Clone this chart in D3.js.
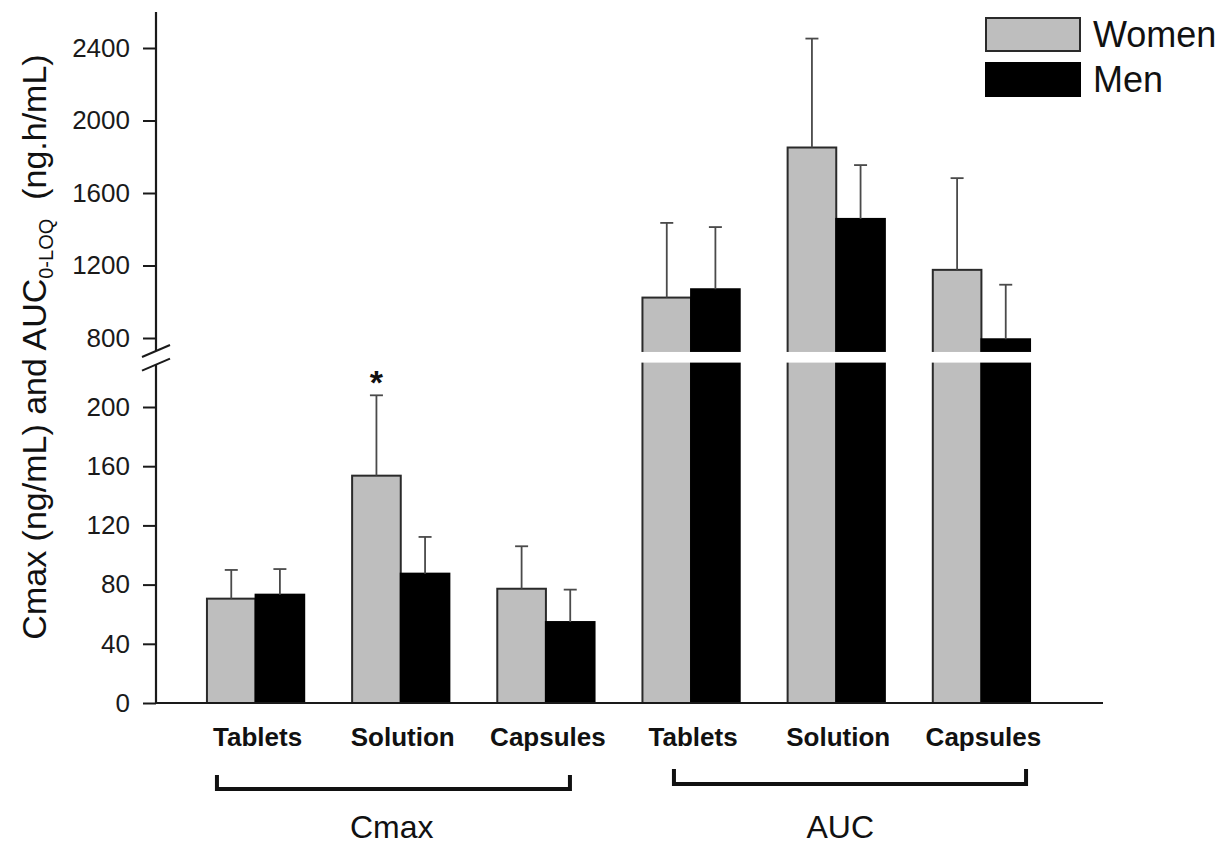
<!DOCTYPE html>
<html>
<head>
<meta charset="utf-8">
<script src="https://cdn.jsdelivr.net/npm/d3@7"></script>
<style>
  html, body { margin: 0; padding: 0; background: #fff; }
  svg { display: block; font-family: "Liberation Sans", Arial, Helvetica, sans-serif; }
</style>
</head>
<body>
<svg id="chart" width="1230" height="847"></svg>
<script>
// ---------------- data ----------------
const measures = ["Cmax", "AUC"];
const forms = ["Tablets", "Solution", "Capsules"];
const sexes = ["Women", "Men"];

const womenCmax   = [70.5, 153.6, 77.2];
const womenCmaxSD = [19.4, 54.3, 28.7];
const menCmax     = [73.2, 87.4, 54.7];
const menCmaxSD   = [17.3, 24.8, 21.9];

const womenAUC    = [1023, 1851, 1176];
const womenAUCSD  = [412, 601, 506];
const menAUC      = [1069, 1457, 793];
const menAUCSD    = [343, 297, 301];

const lowTicks  = [0, 40, 80, 120, 160, 200];
const highTicks = [800, 1200, 1600, 2000, 2400];
const significant = [{ measure: "Cmax", form: "Solution", sex: "Women", label: "*" }];

// ---------------- layout ----------------
const svg = d3.select("#chart");
const FONT = "'Liberation Sans', Arial, Helvetica, sans-serif";
const axisX = 156;
const lowBreak = 230, highBreak = 723;

const yLow  = d3.scaleLinear().domain([0, 200]).range([703, 407]);
const yHigh = d3.scaleLinear().domain([800, 2400]).range([338, 48]);
const yTop = yHigh(2598);

const keys = [];
measures.forEach(m => forms.forEach(f => keys.push(m + "|" + f)));
const x = d3.scaleBand().domain(keys).range([183, 1054]).paddingInner(0.33).paddingOuter(0.165);
const xs = d3.scaleBand().domain(sexes).range([0, x.bandwidth()]).padding(0);

const fills = { Women: "#bebebe", Men: "#000000" };
const strokes = { Women: "#2a2a2a", Men: "#000000" };

const rows = [];
forms.forEach((f, i) => {
  rows.push({ measure: "Cmax", form: f, sex: "Women", v: womenCmax[i], sd: womenCmaxSD[i] });
  rows.push({ measure: "Cmax", form: f, sex: "Men",   v: menCmax[i],   sd: menCmaxSD[i] });
});
forms.forEach((f, i) => {
  rows.push({ measure: "AUC", form: f, sex: "Women", v: womenAUC[i], sd: womenAUCSD[i] });
  rows.push({ measure: "AUC", form: f, sex: "Men",   v: menAUC[i],   sd: menAUCSD[i] });
});
const yOf = (d, v) => d.measure === "Cmax" ? yLow(v) : yHigh(v);
const bx = d => x(d.measure + "|" + d.form) + xs(d.sex);

// bars
svg.append("g").selectAll("rect").data(rows).join("rect")
  .attr("x", d => bx(d))
  .attr("y", d => yOf(d, d.v))
  .attr("width", xs.bandwidth())
  .attr("height", d => yLow(0) - yOf(d, d.v))
  .attr("fill", d => fills[d.sex])
  .attr("stroke", d => strokes[d.sex])
  .attr("stroke-width", 2);

// error bars
const eb = svg.append("g").attr("stroke", "#4a4a4a").attr("stroke-width", 1.8);
rows.forEach(d => {
  const cx = bx(d) + xs.bandwidth() / 2;
  const y1 = yOf(d, d.v), y2 = yOf(d, d.v + d.sd);
  eb.append("line").attr("x1", cx).attr("x2", cx).attr("y1", y1).attr("y2", y2);
  eb.append("line").attr("x1", cx - 6.5).attr("x2", cx + 6.5).attr("y1", y2).attr("y2", y2);
});

// significance marker
significant.forEach(s => {
  const d = rows.find(r => r.measure === s.measure && r.form === s.form && r.sex === s.sex);
  svg.append("text")
    .attr("x", bx(d) + xs.bandwidth() / 2)
    .attr("y", yOf(d, d.v + d.sd) - 1)
    .attr("text-anchor", "middle")
    .attr("font-size", 34).attr("font-weight", "bold").attr("fill", "#111")
    .text(s.label);
});

// white break band across the plot
const bandTop = yHigh(highBreak), bandBot = yLow(lowBreak);
svg.append("rect").attr("x", axisX - 8).attr("y", bandTop)
  .attr("width", 1110 - axisX).attr("height", bandBot - bandTop).attr("fill", "#fff");

// y axes
function styleAxis(g) {
  g.select(".domain").remove();
  g.selectAll(".tick line").attr("stroke", "#1a1a1a").attr("stroke-width", 2);
  g.selectAll(".tick text").attr("font-size", 26).attr("fill", "#1a1a1a").attr("font-family", FONT);
}
svg.append("g").attr("transform", `translate(${axisX},0)`)
  .call(d3.axisLeft(yLow).tickValues(lowTicks).tickSize(13).tickPadding(13).tickFormat(d3.format("d")))
  .call(styleAxis);
svg.append("g").attr("transform", `translate(${axisX},0)`)
  .call(d3.axisLeft(yHigh).tickValues(highTicks).tickSize(13).tickPadding(13).tickFormat(d3.format("d")))
  .call(styleAxis);

const s1 = bandTop - 1, s2 = bandBot + 2;
svg.append("line").attr("x1", axisX).attr("x2", axisX).attr("y1", yTop).attr("y2", s1)
  .attr("stroke", "#1a1a1a").attr("stroke-width", 2.2);
svg.append("line").attr("x1", axisX).attr("x2", axisX).attr("y1", s2).attr("y2", yLow(0))
  .attr("stroke", "#1a1a1a").attr("stroke-width", 2.2);
[s1, s2].forEach(sy => {
  svg.append("line").attr("x1", axisX - 14).attr("y1", sy + 6).attr("x2", axisX + 14).attr("y2", sy - 6)
    .attr("stroke", "#1a1a1a").attr("stroke-width", 2);
});

// baseline
svg.append("line").attr("x1", axisX).attr("x2", 1103).attr("y1", yLow(0)).attr("y2", yLow(0))
  .attr("stroke", "#1a1a1a").attr("stroke-width", 2.2);

// category labels
svg.append("g").selectAll("text").data(keys).join("text")
  .attr("x", d => x(d) + x.bandwidth() / 2 + 2)
  .attr("y", 746)
  .attr("text-anchor", "middle")
  .attr("font-size", 26).attr("font-weight", "bold").attr("fill", "#111")
  .text(d => d.split("|")[1]);

// brackets + group labels
const bracketSpec = {
  Cmax: { l: 10, r: -24.6, top: 775, bot: 789 },
  AUC:  { l: 31.5, r: -4, top: 769, bot: 784 }
};
measures.forEach(m => {
  const b = bracketSpec[m];
  const x0 = x(m + "|" + forms[0]) + b.l;
  const x1 = x(m + "|" + forms[forms.length - 1]) + x.bandwidth() + b.r;
  svg.append("path")
    .attr("d", `M${x0},${b.top} V${b.bot} H${x1} V${b.top}`)
    .attr("fill", "none").attr("stroke", "#111").attr("stroke-width", 4);
  svg.append("text")
    .attr("x", x(m + "|" + forms[1]) + x.bandwidth() / 2 + (m === "Cmax" ? -9 : 4))
    .attr("y", 838)
    .attr("text-anchor", "middle")
    .attr("font-size", 32).attr("fill", "#111")
    .text(m);
});

// y axis title
const yt = svg.append("text")
  .attr("transform", "translate(46,347) rotate(-90)")
  .attr("text-anchor", "middle")
  .attr("font-size", 34).attr("fill", "#111");
yt.append("tspan").text("Cmax (ng/mL) and AUC");
yt.append("tspan").attr("font-size", 20).attr("dy", 7).text("0-LOQ");
yt.append("tspan").attr("dy", -7).text("\u00A0\u00A0(ng.h/mL)");

// legend
const legend = svg.append("g");
sexes.forEach((s, i) => {
  const ly = [18, 63][i];
  legend.append("rect").attr("x", 986).attr("y", ly).attr("width", 94).attr("height", 33)
    .attr("fill", fills[s]).attr("stroke", strokes[s]).attr("stroke-width", 2);
  legend.append("text").attr("x", 1093).attr("y", ly + 29)
    .attr("font-size", 36).attr("fill", "#111").text(s);
});
</script>
</body>
</html>
